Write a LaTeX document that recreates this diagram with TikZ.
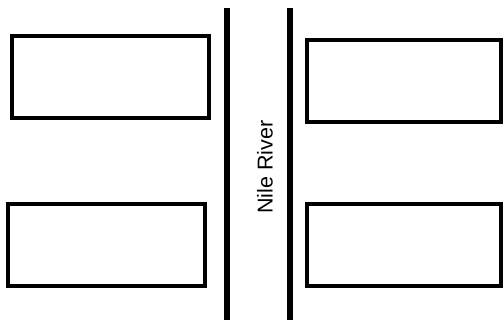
\documentclass[tikz,border=0pt]{standalone}
\usepackage{fontspec}
\setmainfont{Liberation Sans}
\usepackage{tikz}
\usetikzlibrary{positioning}
\begin{document}
\begin{tikzpicture}[x=1pt, y=-1pt,
  blk/.style={draw=black, line width=4pt, fill=white, minimum height=82pt, inner sep=0pt},
  bank/.style={line width=6.5pt, black}]
\useasboundingbox (0,0) rectangle (504,320);
\node[blk, minimum width=197pt] (nw) at (110.5,77) {};
\node[blk, minimum width=194pt] (ne) at (404,81) {};
\node[blk, minimum width=197pt] (sw) at (106.5,245) {};
\node[blk, minimum width=194pt] (se) at (404,245) {};
\coordinate (wtop) at (227,8); \coordinate (wbot) at (227,320);
\coordinate (etop) at (290,8); \coordinate (ebot) at (290,320);
\draw[bank] (wtop) -- (wbot); \draw[bank] (etop) -- (ebot);
\node[rotate=90, font=\fontsize{21.5}{25}\selectfont] (river) at (265,167) {Nile River};
\end{tikzpicture}
\end{document}
